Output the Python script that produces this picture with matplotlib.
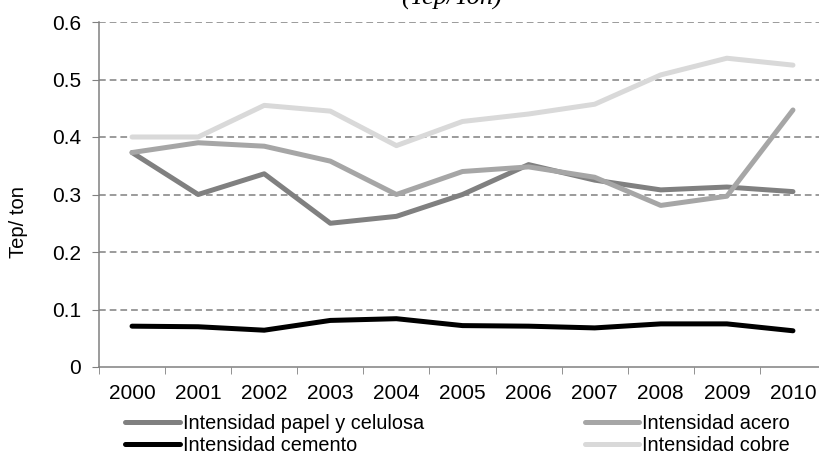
import matplotlib
matplotlib.use("Agg")
import matplotlib.pyplot as plt
import numpy as np

years = ["2000", "2001", "2002", "2003", "2004", "2005", "2006", "2007", "2008", "2009", "2010"]
papel = [0.373, 0.300, 0.336, 0.250, 0.262, 0.300, 0.352, 0.325, 0.308, 0.313, 0.305]
acero = [0.373, 0.390, 0.384, 0.358, 0.300, 0.340, 0.348, 0.330, 0.281, 0.297, 0.447]
cemento = [0.071, 0.070, 0.064, 0.081, 0.084, 0.072, 0.071, 0.068, 0.075, 0.075, 0.063]
cobre = [0.400, 0.400, 0.455, 0.445, 0.385, 0.427, 0.440, 0.457, 0.508, 0.537, 0.525]
yticks = [0, 0.1, 0.2, 0.3, 0.4, 0.5, 0.6]

plt.rcParams['font.family'] = ['Liberation Sans', 'DejaVu Sans']
W, H = 819, 455
fig = plt.figure(figsize=(W/100, H/100), dpi=100)
left, right, top, bottom = 99, 826, 22, 367
ax = fig.add_axes([left/W, 1 - bottom/H, (right-left)/W, (bottom-top)/H])

x = np.arange(len(years))
lw = 3.6
ax.plot(x, cobre, color='#d9d9d9', lw=lw, solid_capstyle='round', label='Intensidad cobre', zorder=3)
ax.plot(x, acero, color='#a6a6a6', lw=lw, solid_capstyle='round', label='Intensidad acero', zorder=4)
ax.plot(x, papel, color='#808080', lw=lw, solid_capstyle='round', label='Intensidad papel y celulosa', zorder=3.5)
ax.plot(x, cemento, color='#000000', lw=lw, solid_capstyle='round', label='Intensidad cemento', zorder=5)

ax.set_xlim(-0.5, 10.5)
ax.set_ylim(0, 0.6)
ax.set_yticks(yticks)
ax.set_yticklabels([f"{v:g}" if v != 0 else "0" for v in yticks], fontsize=15)
ax.set_xticks(x)
ax.set_xticklabels(years, fontsize=15)
ax.set_xticks(np.arange(-0.5, 10.6, 1), minor=True)
ax.tick_params(axis='x', which='major', length=0, pad=12)
ax.tick_params(axis='x', which='minor', length=5, color='#808080', direction='out')
ax.tick_params(axis='y', length=5, color='#808080', direction='out', pad=8)
for g in yticks[1:]:
    ax.axhline(g, color='#808080', lw=1.1, ls=(0, (4.4, 2.6)), zorder=1)
for s in ['top', 'right']:
    ax.spines[s].set_visible(False)
for s in ['left', 'bottom']:
    ax.spines[s].set_color('#808080')
    ax.spines[s].set_linewidth(1.1)

fig.text(18/W, 1 - 222/H, 'Tep/ ton', fontsize=14.5, rotation=90, ha='center', va='center')

handles, labels = ax.get_legend_handles_labels()
order = ['Intensidad papel y celulosa', 'Intensidad cemento', 'Intensidad acero', 'Intensidad cobre']
hmap = dict(zip(labels, handles))
leg = fig.legend([hmap[o] for o in order], order, loc='center left', bbox_to_anchor=(125/W, 1 - 434.5/H),
                 ncol=2, frameon=False, fontsize=14.3, handlelength=2.75, handletextpad=0.15,
                 columnspacing=8.1, labelspacing=0.12, borderpad=0, borderaxespad=0)

fig.text(452/W, 1 - 5/H, '(Tep/Ton)', fontsize=19, family='Liberation Serif', style='italic',
         ha='center', va='baseline')

fig.savefig('out.png', dpi=100)
